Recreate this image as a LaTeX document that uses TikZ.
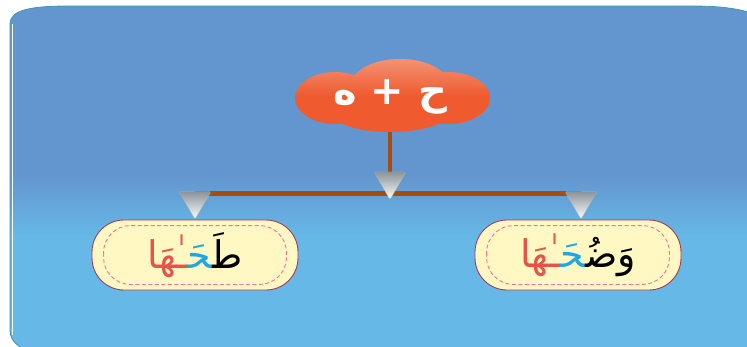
\documentclass[tikz,border=0pt]{standalone}
\usepackage{fontspec}
\newfontfamily\arabicfont[Script=Arabic]{DejaVu Sans}
\TeXXeTstate=1
\usetikzlibrary{positioning, calc, shapes.geometric, backgrounds}
\definecolor{azulfondo}{HTML}{6396CE}
\definecolor{celestefondo}{HTML}{66B8E6}
\definecolor{verdeazul}{HTML}{3A9AA8}
\definecolor{naranjanube}{HTML}{EF5B2F}
\definecolor{salmonnube}{HTML}{F49373}
\definecolor{cafebarra}{HTML}{A84B0C}
\definecolor{cremacaja}{HTML}{FFF8C3}
\definecolor{guindacaja}{HTML}{A63A5C}
\definecolor{rosapunteado}{HTML}{F2739C}
\definecolor{azulletra}{HTML}{1EA7E4}
\definecolor{rojoletra}{HTML}{E8524A}
\definecolor{grisflecha}{HTML}{8A9499}
\tikzset{
  cajaPalabra/.style={
    draw=guindacaja, line width=0.9pt, fill=cremacaja,
    rounded corners=32pt, minimum width=206pt, minimum height=70pt,
    inner sep=0pt, font=\arabicfont\fontsize{38}{44}\selectfont
  },
  punteado/.style={draw=rosapunteado, line width=0.9pt,
    dash pattern=on 4pt off 2.5pt, rounded corners=27pt},
  textoNube/.style={minimum width=195pt, minimum height=70pt, inner sep=0pt,
    text=white, font=\arabicfont\bfseries\fontsize{40}{46}\selectfont},
  triangulo/.style={regular polygon, regular polygon sides=3,
    shape border rotate=180, minimum size=37pt, inner sep=0pt,
    rounded corners=1.5pt, top color=grisflecha, bottom color=white,
    draw=grisflecha!70, line width=0.3pt},
  barra/.style={draw=cafebarra, line width=5pt},
  tallo/.style={draw=cafebarra, line width=4pt},
}

\begin{document}
\begin{tikzpicture}[x=1pt, y=-1pt]
  \useasboundingbox (0,0) rectangle (747,346);

  % fondo azul
  \begin{scope}[on background layer]
    \begin{scope}
      \clip (10,330) -- (10,24) .. controls (10,10) and (30,6) .. (70,6) -- (690,6)
        .. controls (730,6) and (752,10) .. (775,24) -- (775,360) -- (60,360)
        .. controls (22,352) and (10,344) .. (10,330) -- cycle;
      \fill[azulfondo] (0,0) rectangle (780,176);
      \shade[top color=azulfondo, bottom color=celestefondo] (0,175) rectangle (780,236);
      \fill[celestefondo] (0,235) rectangle (780,370);
      \draw[white, line width=0.8pt] (12.5,24) -- (12.5,335);
    \end{scope}
    \draw[verdeazul, line width=0.8pt] (60,360) .. controls (22,352) and (10,344) .. (10,330)
      -- (10,24) .. controls (10,10) and (30,6) .. (70,6) -- (690,6)
      .. controls (730,6) and (752,10) .. (775,24);
  \end{scope}

  % nube
  \shade[top color=salmonnube, bottom color=naranjanube, middle color=naranjanube]
    (335,98) ellipse (40 and 26)
    (448,98) ellipse (42 and 26)
    (400,84) ellipse (48 and 25)
    (390,110) ellipse (62 and 22)
    (390,97) ellipse (70 and 26);
  \node[textoNube] (nube) at (390,97) {\beginR ح + ه\endR};

  % palabras
  \node[cajaPalabra] (izq) at (195,255)
    {{\color{rojoletra}ـٰهَا}{\color{azulletra}^^^^200dحَ^^^^200d}{\color{black}طَ^^^^200d}};
  \node[cajaPalabra] (der) at (578,255)
    {{\color{rojoletra}ـٰهَا}{\color{azulletra}^^^^200dحَ^^^^200d}{\color{black}وَضُ^^^^200d}};
  \draw[punteado] ($(izq.north west)+(12,6)$) rectangle ($(izq.south east)+(-12,-6)$);
  \draw[punteado] ($(der.north west)+(12,6)$) rectangle ($(der.south east)+(-12,-6)$);

  % flechas
  \node[triangulo, anchor=corner 1] (trCentro) at (390,200) {};
  \node[triangulo, anchor=corner 1] (trIzq) at (izq.north) {};
  \node[triangulo, anchor=corner 1] (trDer) at ([xshift=3pt]der.north) {};

  \begin{scope}[on background layer]
    \draw[tallo] (nube.south) -- (trCentro.north);
    \draw[barra] ([yshift=-2pt]trIzq.north) -- ([yshift=-2pt]trDer.north);
  \end{scope}
\end{tikzpicture}
\end{document}
